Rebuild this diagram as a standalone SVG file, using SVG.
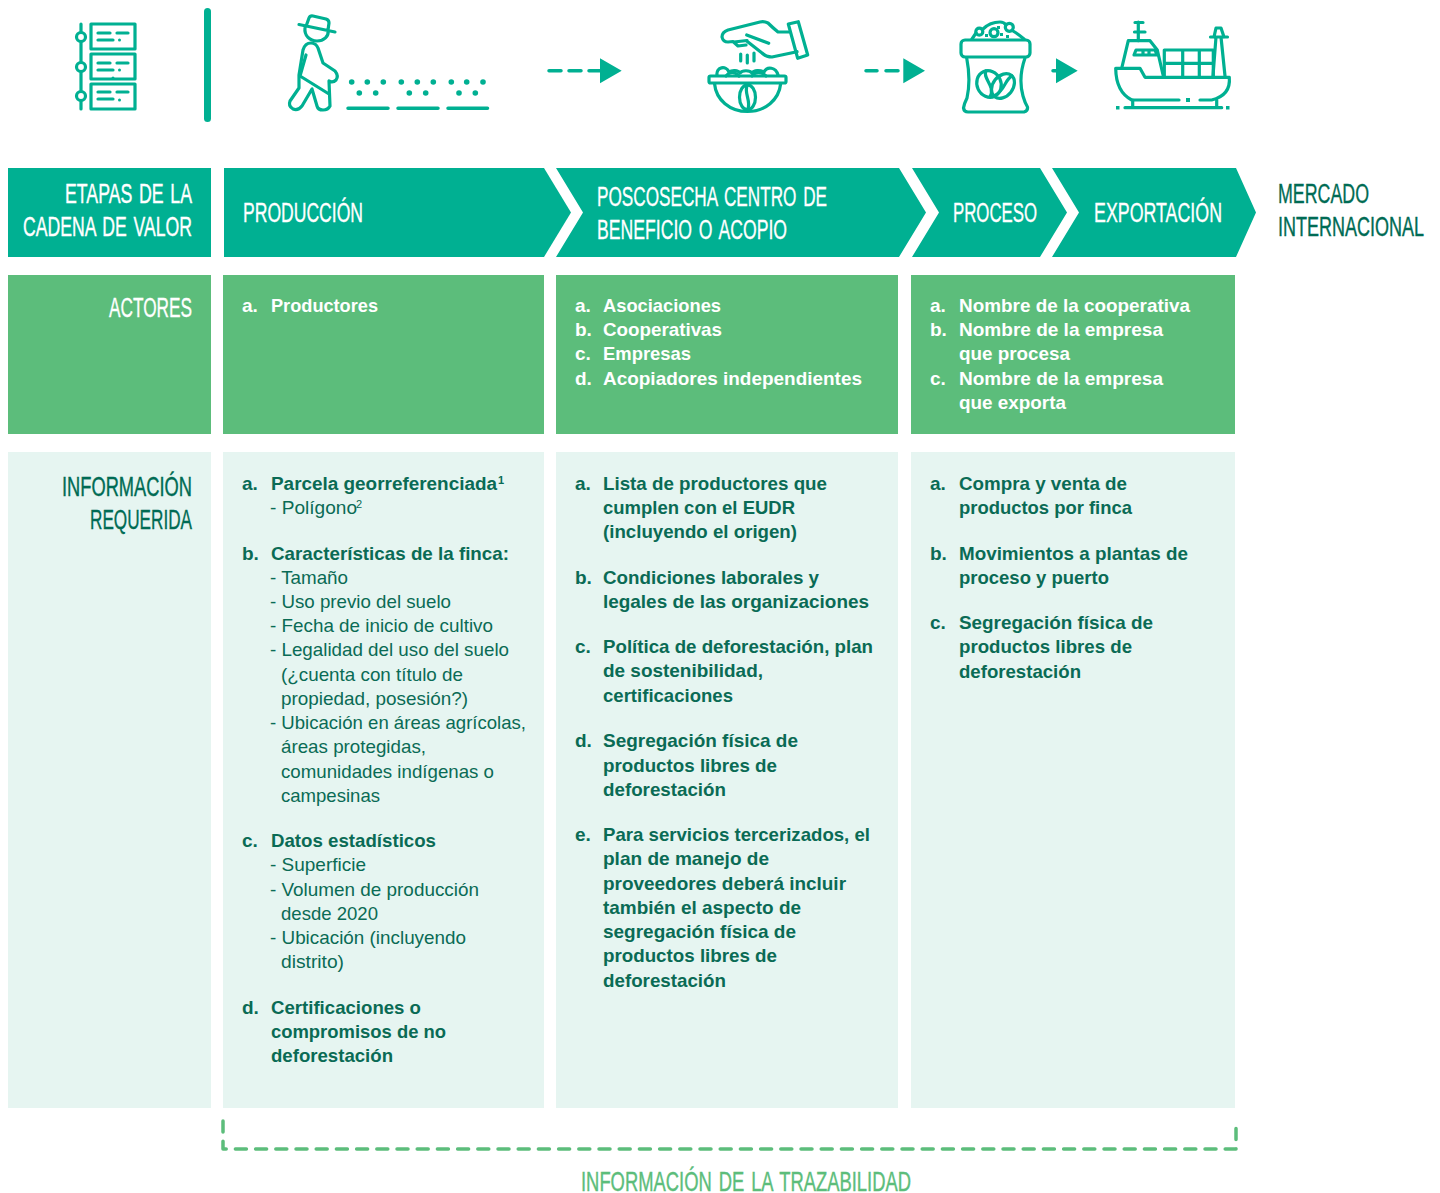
<svg xmlns="http://www.w3.org/2000/svg" width="1440" height="1193" viewBox="0 0 1440 1193">
<style>
.teal{fill:#00b092}.grn{fill:#5cbd7b}.pale{fill:#e6f5f1}
text{font-family:"Liberation Sans",Arial,sans-serif}
.h{font-size:27px;font-weight:400;stroke-width:.35px;word-spacing:3px}
.h2{font-size:20px;font-weight:400;stroke-width:.3px;word-spacing:2px}
.w{fill:#fff;stroke:#fff}.d{fill:#006b54;stroke:#006b54}.g{fill:#5cbd7b;stroke:#5cbd7b}
.b{font-size:19px;font-weight:700;fill:#0a6b55;transform:translateY(-.3px)}
.b2{font-size:17.500px;font-weight:700;fill:#0a6b55}
.r{font-size:19px;font-weight:400;fill:#0a6b55;transform:translateY(-.3px)}
.a{font-size:19px;font-weight:700;fill:#fff;transform:translateY(-.3px)}
.s{font-size:11px;font-weight:700;fill:#0a6b55}
.s2{font-size:11px;font-weight:400;fill:#0a6b55}
.i{fill:none;stroke:#00b092;stroke-width:3.200;stroke-linecap:round;stroke-linejoin:round}
.f{fill:#00b092;stroke:none}
.conn{fill:none;stroke:#00b092;stroke-width:3.500;stroke-linecap:round}
.br{fill:none;stroke:#5cbd7b;stroke-width:3.500;stroke-linecap:round;stroke-linejoin:round;stroke-dasharray:11 9.200}
</style>

<g id="icon-list" class="i">
<path d="M81,24V109"/>
<circle cx="81" cy="37" r="4.500" fill="#fff"/><circle cx="81" cy="67" r="4.500" fill="#fff"/><circle cx="81" cy="96" r="4.500" fill="#fff"/>
<rect x="91" y="24" width="44" height="25"/><rect x="91" y="54" width="44" height="25"/><rect x="91" y="84" width="44" height="25"/>
<path d="M98,33H110M117,33H128M98,40H113M98,63H110M117,63H128M98,70H113M98,92H110M117,92H128M98,99H113"/>
<circle class="f" cx="119.500" cy="40" r="1.500"/><circle class="f" cx="119.500" cy="70" r="1.500"/><circle class="f" cx="113" cy="78" r="1.500"/><circle class="f" cx="119.500" cy="100" r="1.500"/>
</g>
<rect id="divider" x="204" y="8" width="7" height="114" rx="3.500" class="teal"/>

<g id="icon-farmer" class="i">
<path d="M299,24.500L335,32M305,27.500C304,36 310,41 317,41C324,41 329,36 328,31M306.500,25L309,18Q310,15.500 313,16L326,19Q329,20 329,23L328,30"/>
<path d="M303,50Q305,43 311,43Q316,43 318,48L323,63L335,71Q339,76 336,80Q333,83 329,81L330,106Q328,110 323,110Q318,110 317,106L312,89L302,106Q298,111 293,109Q288,106 290,101L299,88V75Z"/>
<path d="M306,55L300,76L329,94"/>
<g class="f"><circle cx="351.700" cy="82" r="2.800"/><circle cx="367.300" cy="82" r="2.800"/><circle cx="383.300" cy="82" r="2.800"/><circle cx="401.300" cy="82" r="2.800"/><circle cx="417.300" cy="82" r="2.800"/><circle cx="433.300" cy="82" r="2.800"/><circle cx="451.300" cy="82" r="2.800"/><circle cx="466.700" cy="82" r="2.800"/><circle cx="483" cy="82" r="2.800"/>
<circle cx="359.300" cy="93" r="2.800"/><circle cx="375.700" cy="93" r="2.800"/><circle cx="409.300" cy="93" r="2.800"/><circle cx="425.700" cy="93" r="2.800"/><circle cx="459" cy="93" r="2.800"/><circle cx="475.300" cy="93" r="2.800"/></g>
<path stroke-width="3.500" d="M348,108.300H388M398,108.300H438M448,108.300H487.500"/>
</g>

<g id="icon-hand" class="i">
<path d="M788.300,24L798.300,21.700L807.700,55L797.700,58.300Z"/>
<path d="M789,32H778Q772,27 768,23Q764,21 760,22L728,30Q722,32 722,37Q723,42 728,42L733,41.500L738,46L746,45M734,42L747,40.500M746.700,35L768.700,43.300M746.700,41L762,53Q766,57 772,57L797,51.700"/>
<path d="M740.700,54V61M747.300,55V63M754,53V61"/>
<rect x="709" y="76" width="77" height="7" rx="1.500"/>
<path d="M714.500,83.500C716,100 730,111.500 747.500,111.500C765,111.500 779,100 780.700,83.500"/>
<ellipse cx="747.500" cy="97.300" rx="8" ry="12.500"/><path d="M747.500,85C743,92 752,102 747.500,109.500"/>
<path d="M717,75C716,67 726,65 729,72C732,70 738,70 740,73C742,70 750,70 752,73C754,70 760,70 764,72C767,66 776,67 778,75"/>
<path d="M726,76Q732,69 739,76M752,76Q758,69 766,76"/>
</g>

<g id="icon-sack" class="i">
<rect x="961" y="40" width="69" height="17" rx="4"/>
<path d="M966.700,58Q971,80 967,98Q964,104 963.500,108Q964,112 968,112H1024Q1028,111 1027.500,107Q1025,103 1023,96Q1018,78 1025,58"/>
<path d="M972,39L976,33M983,29Q990,22 1000,22Q1004,22 1006,25M1013,31Q1018,34 1024,39"/>
<circle cx="979.300" cy="31.700" r="3.500"/><circle cx="994" cy="32.700" r="4"/><circle cx="1009.300" cy="27.300" r="4"/>
<g class="f"><rect x="985" y="34" width="3" height="3"/><rect x="997" y="26" width="3" height="3"/><rect x="1000" y="33" width="3" height="3"/><rect x="1006" y="35" width="3" height="3"/></g>
<ellipse cx="989" cy="84" rx="12" ry="13.500" transform="rotate(-25 989 84)"/>
<ellipse cx="1003" cy="86" rx="10" ry="13.500" transform="rotate(38 1003 86)"/>
<path d="M986,71C982,78 996,86 990,97M1012,76C1004,80 1006,90 994,96"/>
</g>

<g id="icon-ship" class="i">
<path d="M1179,100H1131.700Q1116,92 1115.700,68.300H1140L1145,77.300H1229.300Q1231,95 1211.700,100H1200"/>
<path d="M1125,107.700H1221.700M1132.700,100V107.700M1216.700,100V107.700M1122,67L1128.300,40.700H1150L1157.300,50L1163.300,76"/>
<path d="M1134,55L1136,50H1155L1157,55ZM1143,50V55M1149,50V55"/>
<path d="M1138.300,22V40.700M1135,22.500H1143M1134.500,32H1145"/>
<path d="M1164.300,76V50H1213.300V76M1164.300,63.300H1213.300M1182.700,50V76M1199.300,50V76"/>
<path d="M1216,37L1213,76M1221,37L1225,76M1210.500,37H1227.500M1214,37L1216,28H1221L1224,37"/>
<g class="f"><rect x="1186" y="98" width="4" height="4"/><rect x="1116" y="106" width="3.500" height="3.500"/><rect x="1226" y="106" width="3.500" height="3.500"/></g>
</g>

<g id="connectors">
<path class="conn" d="M549,70.700H561M569,70.700H581M589,70.700H600M866,70.700H877M886,70.700H898M1053,70.700H1057"/>
<path class="f" d="M600,58.300L621.700,70.700L600,83.300ZM903.300,58.300L925,70.700L903.300,83.300ZM1056,58.300L1077.700,70.700L1056,83.300Z"/>
<path class="br" d="M223,1121V1149H1236V1126"/>
</g>

<g id="etapas"><rect class="teal" x="8" y="168" width="203" height="89"/>
<text class="h2 w" x="0" y="0" transform="matrix(1 0 0 1.350 65 203)" textLength="127" lengthAdjust="spacingAndGlyphs">ETAPAS DE LA</text>
<text class="h2 w" x="0" y="0" transform="matrix(1 0 0 1.350 23 235.500)" textLength="169" lengthAdjust="spacingAndGlyphs">CADENA DE VALOR</text></g>
<g id="produccion"><path class="teal" d="M224,168H544L571,212.500L544,257H224Z"/>
<text class="h w" x="243" y="222" textLength="120" lengthAdjust="spacingAndGlyphs">PRODUCCIÓN</text></g>
<g id="poscosecha"><path class="teal" d="M556,168H899L926,212.500L899,257H556L583,212.500Z"/>
<text class="h w" x="597" y="206" textLength="230" lengthAdjust="spacingAndGlyphs">POSCOSECHA CENTRO DE</text>
<text class="h w" x="597" y="239" textLength="190" lengthAdjust="spacingAndGlyphs">BENEFICIO O ACOPIO</text></g>
<g id="proceso"><path class="teal" d="M912,168H1040L1067,212.500L1040,257H912L939,212.500Z"/>
<text class="h w" x="953" y="222" textLength="84" lengthAdjust="spacingAndGlyphs">PROCESO</text></g>
<g id="exportacion"><path class="teal" d="M1052,168H1236L1256,212.500L1236,257H1052L1079,212.500Z"/>
<text class="h w" x="1094" y="222" textLength="128" lengthAdjust="spacingAndGlyphs">EXPORTACIÓN</text></g>
<g id="mercado">
<text class="h d" x="1278" y="203" textLength="91" lengthAdjust="spacingAndGlyphs">MERCADO</text>
<text class="h2 d" x="0" y="0" transform="matrix(1 0 0 1.350 1278 235.500)" textLength="146" lengthAdjust="spacingAndGlyphs">INTERNACIONAL</text></g>

<g id="actores-label"><rect class="grn" x="8" y="275" width="203" height="159"/>
<text class="h w" x="109" y="317" textLength="83" lengthAdjust="spacingAndGlyphs">ACTORES</text></g>
<g id="actores-produccion"><rect class="grn" x="223" y="275" width="321" height="159"/>
<text class="a" x="242" y="312">a.</text><text class="a" x="271" y="312" textLength="107" lengthAdjust="spacingAndGlyphs">Productores</text></g>
<g id="actores-poscosecha"><rect class="grn" x="556" y="275" width="342" height="159"/>
<text class="a" x="575" y="312">a.</text><text class="a" x="603" y="312" textLength="118" lengthAdjust="spacingAndGlyphs">Asociaciones</text>
<text class="a" x="575" y="336">b.</text><text class="a" x="603" y="336" textLength="119" lengthAdjust="spacingAndGlyphs">Cooperativas</text>
<text class="a" x="575" y="360">c.</text><text class="a" x="603" y="360" textLength="88" lengthAdjust="spacingAndGlyphs">Empresas</text>
<text class="a" x="575" y="385">d.</text><text class="a" x="603" y="385" textLength="259" lengthAdjust="spacingAndGlyphs">Acopiadores independientes</text></g>
<g id="actores-proceso"><rect class="grn" x="911" y="275" width="324" height="159"/>
<text class="a" x="930" y="312">a.</text><text class="a" x="959" y="312" textLength="231" lengthAdjust="spacingAndGlyphs">Nombre de la cooperativa</text>
<text class="a" x="930" y="336">b.</text><text class="a" x="959" y="336" textLength="204" lengthAdjust="spacingAndGlyphs">Nombre de la empresa</text>
<text class="a" x="959" y="360" textLength="111" lengthAdjust="spacingAndGlyphs">que procesa</text>
<text class="a" x="930" y="385">c.</text><text class="a" x="959" y="385" textLength="204" lengthAdjust="spacingAndGlyphs">Nombre de la empresa</text>
<text class="a" x="959" y="409" textLength="107" lengthAdjust="spacingAndGlyphs">que exporta</text></g>

<g id="info-label"><rect class="pale" x="8" y="452" width="203" height="656"/>
<text class="h2 d" x="0" y="0" transform="matrix(1 0 0 1.350 62 496)" textLength="130" lengthAdjust="spacingAndGlyphs">INFORMACIÓN</text>
<text class="h d" x="90" y="529" textLength="102" lengthAdjust="spacingAndGlyphs">REQUERIDA</text></g>

<g id="info-produccion"><rect class="pale" x="223" y="452" width="321" height="656"/>
<text class="b" x="242" y="490">a.</text><text class="b2" x="0" y="0" transform="matrix(1 0 0 1.086 271 489.700)" textLength="226" lengthAdjust="spacingAndGlyphs">Parcela georreferenciada</text><text class="s" x="498" y="484">1</text>
<text class="r" x="270" y="514" textLength="87" lengthAdjust="spacingAndGlyphs">- Polígono</text><text class="s2" x="356" y="508">2</text>
<text class="b" x="242" y="560">b.</text><text class="b" x="271" y="560" textLength="238" lengthAdjust="spacingAndGlyphs">Características de la finca:</text>
<text class="r" x="270" y="584" textLength="78" lengthAdjust="spacingAndGlyphs">- Tamaño</text>
<text class="r" x="270" y="608" textLength="181" lengthAdjust="spacingAndGlyphs">- Uso previo del suelo</text>
<text class="r" x="270" y="632" textLength="223" lengthAdjust="spacingAndGlyphs">- Fecha de inicio de cultivo</text>
<text class="r" x="270" y="656" textLength="239" lengthAdjust="spacingAndGlyphs">- Legalidad del uso del suelo</text>
<text class="r" x="281" y="681" textLength="182" lengthAdjust="spacingAndGlyphs">(¿cuenta con título de</text>
<text class="r" x="281" y="705" textLength="187" lengthAdjust="spacingAndGlyphs">propiedad, posesión?)</text>
<text class="r" x="270" y="729" textLength="256" lengthAdjust="spacingAndGlyphs">- Ubicación en áreas agrícolas,</text>
<text class="r" x="281" y="753" textLength="145" lengthAdjust="spacingAndGlyphs">áreas protegidas,</text>
<text class="r" x="281" y="778" textLength="213" lengthAdjust="spacingAndGlyphs">comunidades indígenas o</text>
<text class="r" x="281" y="802" textLength="99" lengthAdjust="spacingAndGlyphs">campesinas</text>
<text class="b" x="242" y="847">c.</text><text class="b" x="271" y="847" textLength="165" lengthAdjust="spacingAndGlyphs">Datos estadísticos</text>
<text class="r" x="270" y="871" textLength="96" lengthAdjust="spacingAndGlyphs">- Superficie</text>
<text class="r" x="270" y="896" textLength="209" lengthAdjust="spacingAndGlyphs">- Volumen de producción</text>
<text class="r" x="281" y="920" textLength="97" lengthAdjust="spacingAndGlyphs">desde 2020</text>
<text class="r" x="270" y="944" textLength="196" lengthAdjust="spacingAndGlyphs">- Ubicación (incluyendo</text>
<text class="r" x="281" y="968" textLength="63" lengthAdjust="spacingAndGlyphs">distrito)</text>
<text class="b" x="242" y="1014">d.</text><text class="b" x="271" y="1014" textLength="150" lengthAdjust="spacingAndGlyphs">Certificaciones o</text>
<text class="b" x="271" y="1038" textLength="175" lengthAdjust="spacingAndGlyphs">compromisos de no</text>
<text class="b" x="271" y="1062" textLength="122" lengthAdjust="spacingAndGlyphs">deforestación</text></g>

<g id="info-poscosecha"><rect class="pale" x="556" y="452" width="342" height="656"/>
<text class="b" x="575" y="490">a.</text><text class="b" x="603" y="490" textLength="224" lengthAdjust="spacingAndGlyphs">Lista de productores que</text>
<text class="b" x="603" y="514" textLength="192" lengthAdjust="spacingAndGlyphs">cumplen con el EUDR</text>
<text class="b" x="603" y="538" textLength="194" lengthAdjust="spacingAndGlyphs">(incluyendo el origen)</text>
<text class="b" x="575" y="584">b.</text><text class="b" x="603" y="584" textLength="216" lengthAdjust="spacingAndGlyphs">Condiciones laborales y</text>
<text class="b" x="603" y="608" textLength="266" lengthAdjust="spacingAndGlyphs">legales de las organizaciones</text>
<text class="b" x="575" y="653">c.</text><text class="b" x="603" y="653" textLength="270" lengthAdjust="spacingAndGlyphs">Política de deforestación, plan</text>
<text class="b" x="603" y="677" textLength="160" lengthAdjust="spacingAndGlyphs">de sostenibilidad,</text>
<text class="b" x="603" y="702" textLength="130" lengthAdjust="spacingAndGlyphs">certificaciones</text>
<text class="b" x="575" y="747">d.</text><text class="b" x="603" y="747" textLength="195" lengthAdjust="spacingAndGlyphs">Segregación física de</text>
<text class="b" x="603" y="772" textLength="174" lengthAdjust="spacingAndGlyphs">productos libres de</text>
<text class="b" x="603" y="796" textLength="123" lengthAdjust="spacingAndGlyphs">deforestación</text>
<text class="b" x="575" y="841">e.</text><text class="b" x="603" y="841" textLength="267" lengthAdjust="spacingAndGlyphs">Para servicios tercerizados, el</text>
<text class="b" x="603" y="865" textLength="166" lengthAdjust="spacingAndGlyphs">plan de manejo de</text>
<text class="b" x="603" y="890" textLength="243" lengthAdjust="spacingAndGlyphs">proveedores deberá incluir</text>
<text class="b" x="603" y="914" textLength="198" lengthAdjust="spacingAndGlyphs">también el aspecto de</text>
<text class="b" x="603" y="938" textLength="193" lengthAdjust="spacingAndGlyphs">segregación física de</text>
<text class="b" x="603" y="962" textLength="174" lengthAdjust="spacingAndGlyphs">productos libres de</text>
<text class="b" x="603" y="987" textLength="123" lengthAdjust="spacingAndGlyphs">deforestación</text></g>

<g id="info-proceso"><rect class="pale" x="911" y="452" width="324" height="656"/>
<text class="b" x="930" y="490">a.</text><text class="b" x="959" y="490" textLength="168" lengthAdjust="spacingAndGlyphs">Compra y venta de</text>
<text class="b" x="959" y="514" textLength="173" lengthAdjust="spacingAndGlyphs">productos por finca</text>
<text class="b" x="930" y="560">b.</text><text class="b" x="959" y="560" textLength="229" lengthAdjust="spacingAndGlyphs">Movimientos a plantas de</text>
<text class="b" x="959" y="584" textLength="150" lengthAdjust="spacingAndGlyphs">proceso y puerto</text>
<text class="b" x="930" y="629">c.</text><text class="b" x="959" y="629" textLength="194" lengthAdjust="spacingAndGlyphs">Segregación física de</text>
<text class="b" x="959" y="653" textLength="173" lengthAdjust="spacingAndGlyphs">productos libres de</text>
<text class="b" x="959" y="678" textLength="122" lengthAdjust="spacingAndGlyphs">deforestación</text></g>

<g id="trazabilidad"><text class="h2 g" x="0" y="0" transform="matrix(1 0 0 1.350 581 1191)" textLength="330" lengthAdjust="spacingAndGlyphs">INFORMACIÓN DE LA TRAZABILIDAD</text></g>
</svg>
